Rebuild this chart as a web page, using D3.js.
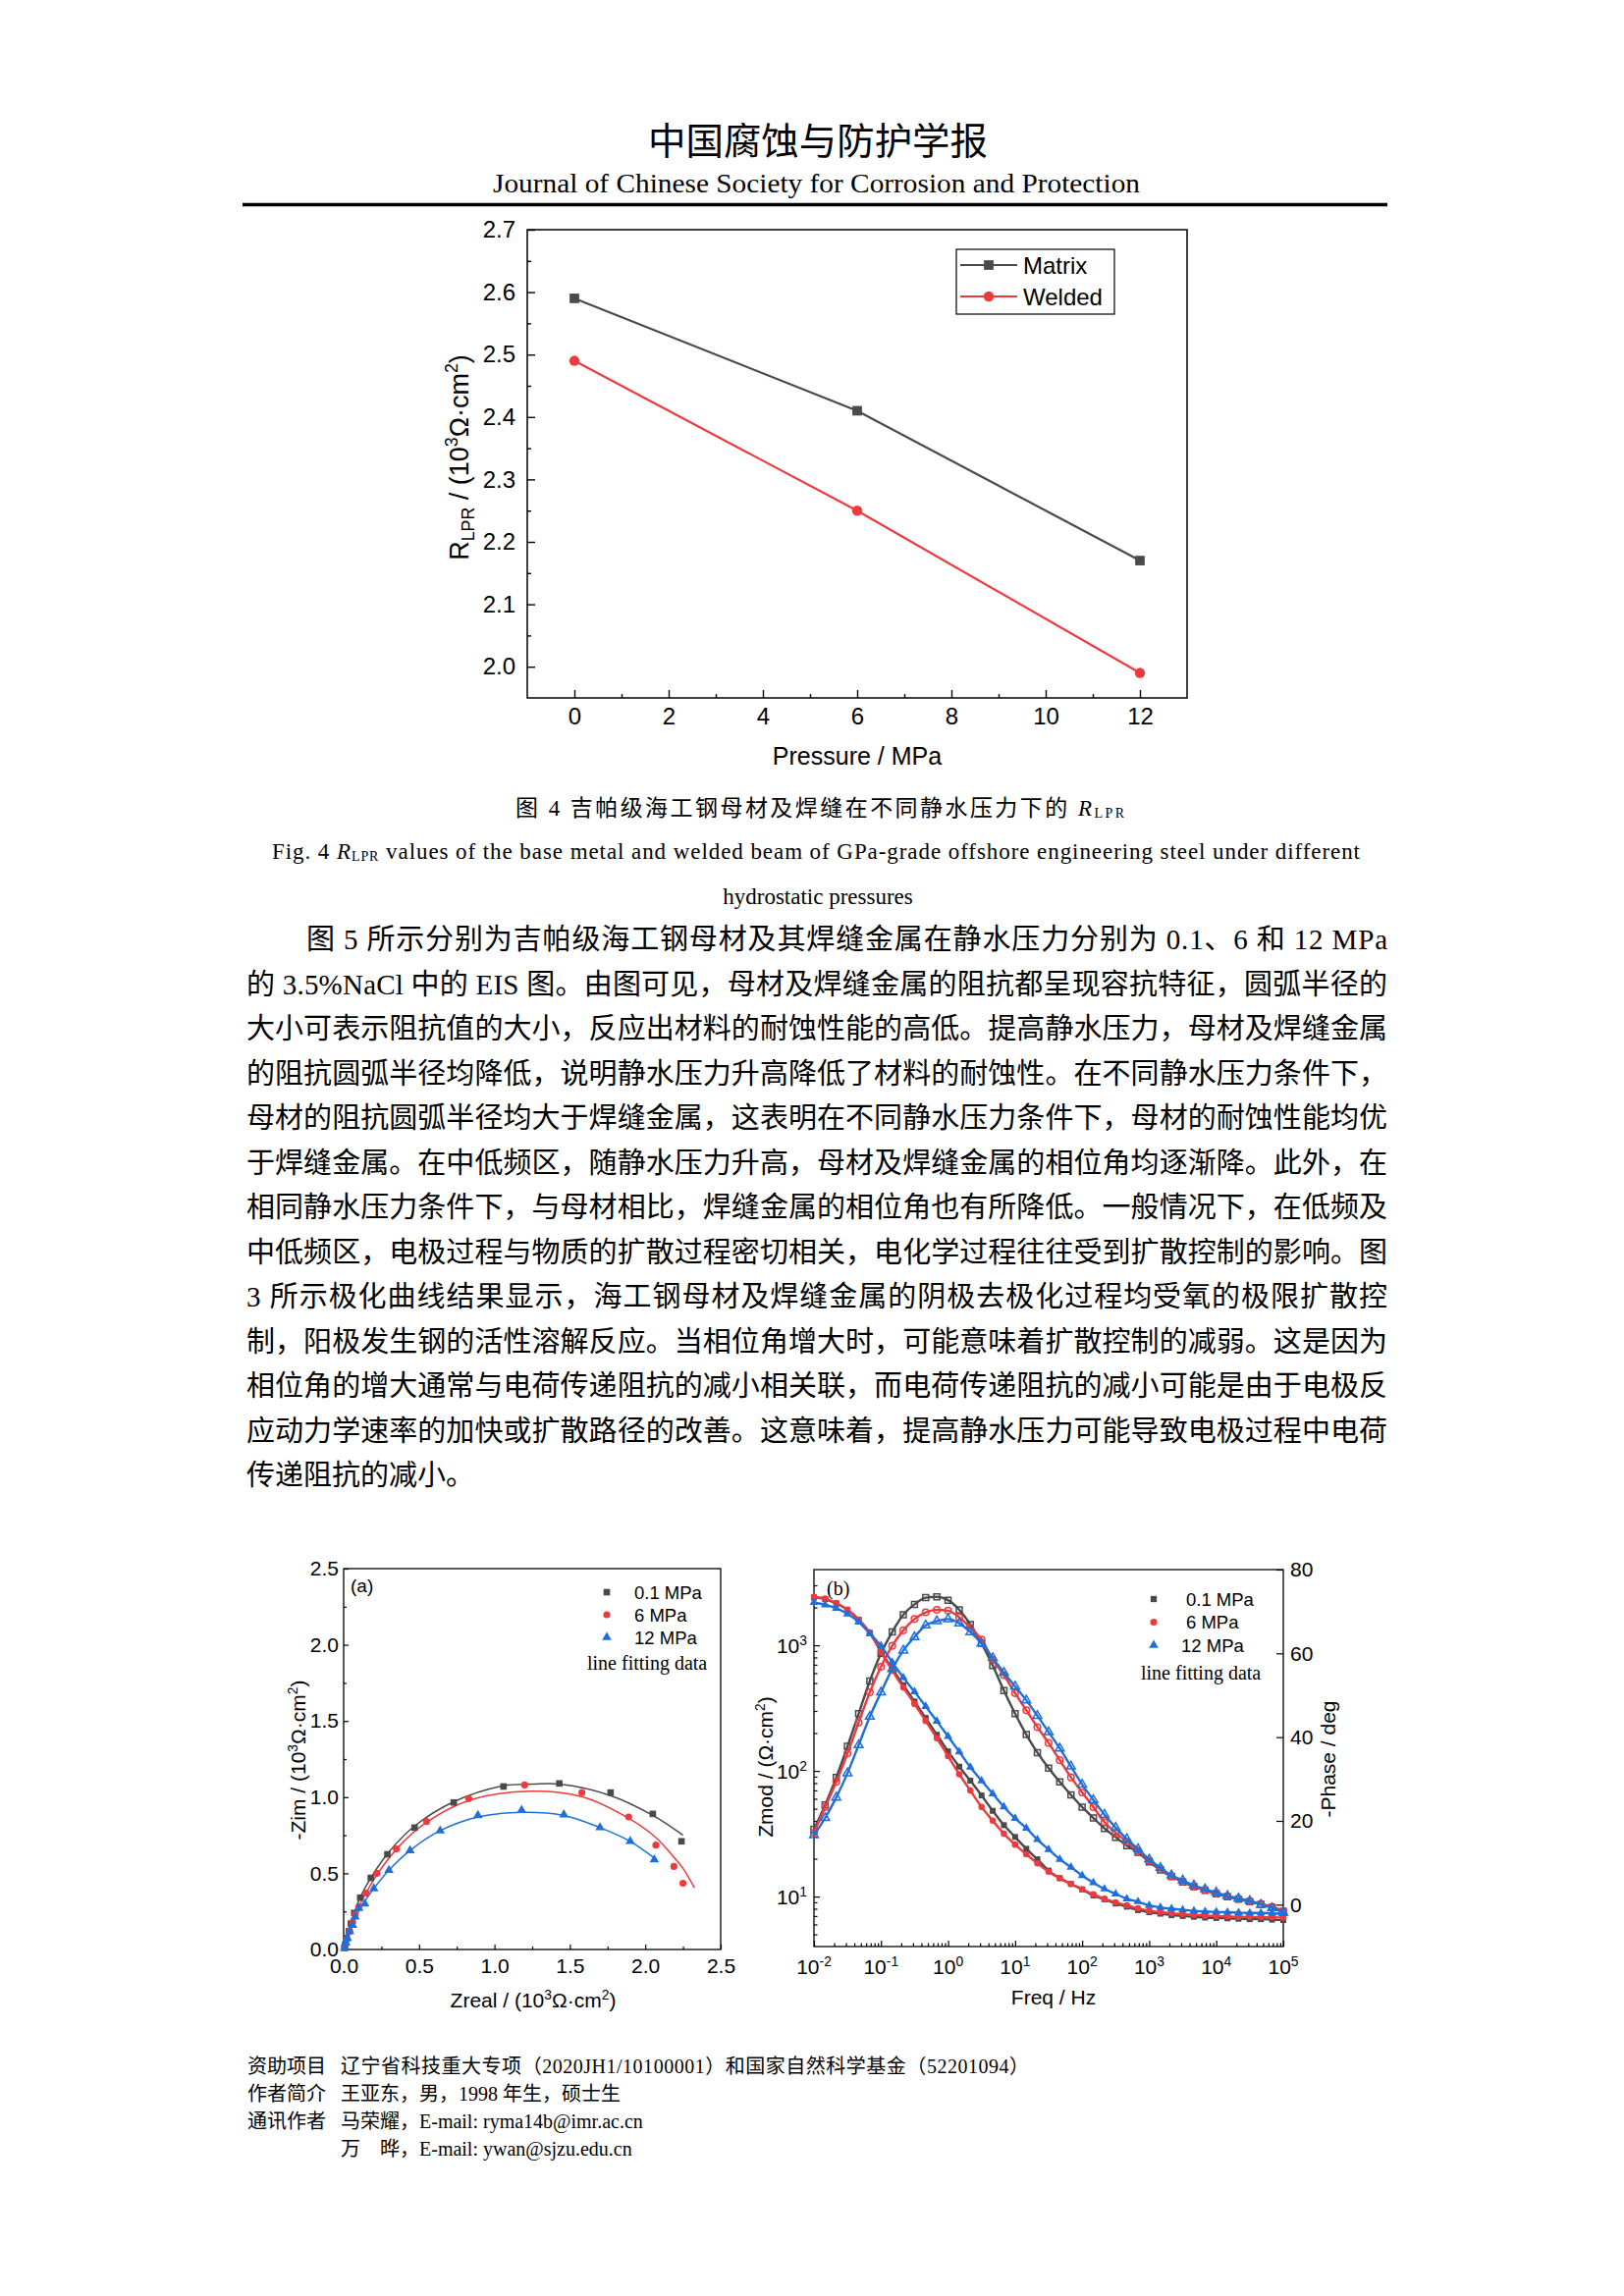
<!DOCTYPE html>
<html><head><meta charset="utf-8">
<script src="https://cdn.jsdelivr.net/npm/d3@7"></script>
<style>body{margin:0;background:#fff}</style>
</head><body>
<svg id="page" width="1654" height="2339"></svg>
<script>
// ---------------- DATA ----------------
const journalCn = "中国腐蚀与防护学报";
const journalEn = "Journal of Chinese Society for Corrosion and Protection";

// Fig 4
const pressures = [0, 6, 12];
const matrixR = [2.59, 2.41, 2.17];
const weldedR = [2.49, 2.25, 1.99];
const fig4XTicks = [0, 2, 4, 6, 8, 10, 12];
const fig4XMinor = [1, 3, 5, 7, 9, 11];
const fig4YTicks = [2.0, 2.1, 2.2, 2.3, 2.4, 2.5, 2.6, 2.7];
const fig4YMinor = [2.05, 2.15, 2.25, 2.35, 2.45, 2.55, 2.65];
const fig4Legend = ["Matrix", "Welded"];

const caption4Cn = "图 4  吉帕级海工钢母材及焊缝在不同静水压力下的 ";
const caption4En1 = " values of the base metal and welded beam of GPa-grade offshore engineering steel under different";
const caption4En2 = "hydrostatic pressures";

const bodyLines = [
  "图 5 所示分别为吉帕级海工钢母材及其焊缝金属在静水压力分别为 0.1、6 和 12 MPa",
  "的 3.5%NaCl 中的 EIS 图。由图可见，母材及焊缝金属的阻抗都呈现容抗特征，圆弧半径的",
  "大小可表示阻抗值的大小，反应出材料的耐蚀性能的高低。提高静水压力，母材及焊缝金属",
  "的阻抗圆弧半径均降低，说明静水压力升高降低了材料的耐蚀性。在不同静水压力条件下，",
  "母材的阻抗圆弧半径均大于焊缝金属，这表明在不同静水压力条件下，母材的耐蚀性能均优",
  "于焊缝金属。在中低频区，随静水压力升高，母材及焊缝金属的相位角均逐渐降。此外，在",
  "相同静水压力条件下，与母材相比，焊缝金属的相位角也有所降低。一般情况下，在低频及",
  "中低频区，电极过程与物质的扩散过程密切相关，电化学过程往往受到扩散控制的影响。图",
  "3  所示极化曲线结果显示，海工钢母材及焊缝金属的阴极去极化过程均受氧的极限扩散控",
  "制，阳极发生钢的活性溶解反应。当相位角增大时，可能意味着扩散控制的减弱。这是因为",
  "相位角的增大通常与电荷传递阻抗的减小相关联，而电荷传递阻抗的减小可能是由于电极反",
  "应动力学速率的加快或扩散路径的改善。这意味着，提高静水压力可能导致电极过程中电荷",
  "传递阻抗的减小。"
];

// Fig 5a Nyquist (10^3 ohm cm2)
const nyqGrayX = [0.005, 0.01, 0.02, 0.035, 0.048, 0.07, 0.11, 0.18, 0.29, 0.47, 0.73, 1.06, 1.43, 1.77, 2.05, 2.24];
const nyqGrayY = [0.01, 0.03, 0.075, 0.12, 0.17, 0.24, 0.34, 0.47, 0.625, 0.80, 0.965, 1.07, 1.09, 1.03, 0.89, 0.71];
const fitGrayX = [0, 0.02, 0.05, 0.1, 0.18, 0.3, 0.47, 0.73, 1.06, 1.25, 1.43, 1.77, 2.05, 2.25];
const fitGrayY = [0, 0.075, 0.17, 0.32, 0.47, 0.64, 0.81, 0.97, 1.075, 1.085, 1.085, 1.01, 0.88, 0.75];
const nyqRedX = [0.006, 0.02, 0.04, 0.06, 0.076, 0.10, 0.15, 0.22, 0.35, 0.55, 0.83, 1.20, 1.58, 1.89, 2.07, 2.19, 2.25];
const nyqRedY = [0.02, 0.065, 0.12, 0.18, 0.23, 0.28, 0.37, 0.50, 0.66, 0.84, 0.99, 1.08, 1.03, 0.87, 0.685, 0.545, 0.435];
const fitRedX = [0, 0.065, 0.152, 0.239, 0.369, 0.543, 0.825, 1.237, 1.584, 1.888, 2.072, 2.192, 2.246, 2.326];
const fitRedY = [0, 0.205, 0.377, 0.517, 0.679, 0.830, 0.976, 1.039, 1.002, 0.862, 0.733, 0.603, 0.539, 0.405];
const nyqBlueX = [0.006, 0.015, 0.025, 0.04, 0.06, 0.076, 0.10, 0.14, 0.20, 0.30, 0.44, 0.64, 0.89, 1.18, 1.46, 1.70, 1.90, 2.06];
const nyqBlueY = [0.01, 0.043, 0.075, 0.12, 0.16, 0.215, 0.27, 0.30, 0.40, 0.52, 0.65, 0.78, 0.88, 0.915, 0.885, 0.80, 0.71, 0.59];
const fitBlueX = [0, 0.03, 0.07, 0.13, 0.2, 0.3, 0.44, 0.64, 0.89, 1.18, 1.46, 1.70, 1.90, 2.06];
const fitBlueY = [0, 0.09, 0.19, 0.30, 0.40, 0.52, 0.65, 0.78, 0.87, 0.90, 0.88, 0.80, 0.71, 0.60];
const nyqTicks = [0, 0.5, 1.0, 1.5, 2.0, 2.5];
const nyqMinor = [0.25, 0.75, 1.25, 1.75, 2.25];
const legendNames = ["0.1 MPa", "6 MPa", "12 MPa"];

// Fig 5b Bode
const freqHz = [0.01, 0.0147, 0.0215, 0.0316, 0.0464, 0.0681, 0.1, 0.147, 0.215, 0.316, 0.464, 0.681,
  1, 1.47, 2.15, 3.16, 4.64, 6.81, 10, 14.7, 21.5, 31.6, 46.4, 68.1, 100, 147, 215, 316, 464, 681,
  1000, 1470, 2150, 3160, 4640, 6810, 10000, 14700, 21500, 31600, 46400, 68100, 100000];
const zmodGray = [2400, 2330, 2150, 1910, 1600, 1256, 893, 650, 481, 357, 264, 194, 143, 108, 83.6, 63.8,
  48.1, 37.0, 29.8, 24.0, 19.8, 16.1, 14.0, 12.6, 11.4, 10.2, 9.5, 8.8, 8.3, 7.8,
  7.5, 7.3, 7.1, 7.0, 6.9, 6.8, 6.75, 6.7, 6.65, 6.6, 6.6, 6.55, 6.5];
const zmodRed = [2430, 2350, 2170, 1920, 1600, 1250, 880, 630, 461, 342, 250, 182, 131, 94, 69.8, 51.6,
  40.2, 31.6, 25.9, 21.7, 18.4, 15.8, 14.0, 12.6, 11.4, 10.4, 9.6, 9.0, 8.5, 8.05,
  7.7, 7.5, 7.35, 7.25, 7.15, 7.05, 7.0, 6.95, 6.9, 6.9, 6.85, 6.85, 6.8];
const zmodBlue = [2190, 2100, 1970, 1778, 1530, 1240, 988, 733, 553, 427, 326, 249, 188, 142, 107, 83.5,
  65.8, 51.7, 41.9, 35.0, 28.4, 23.7, 19.8, 17.1, 14.7, 12.9, 11.5, 10.5, 9.6, 9.1,
  8.5, 8.2, 8.0, 7.85, 7.7, 7.6, 7.55, 7.5, 7.45, 7.4, 7.4, 7.35, 7.3];
const phaseGray = [18.0, 23.8, 30.4, 37.8, 45.6, 53.4, 60.0, 65.1, 69.2, 71.7, 73.3, 73.5, 72.7, 70.4, 66.9, 62.4,
  57.1, 51.1, 45.6, 40.6, 36.3, 32.6, 29.3, 26.2, 23.3, 20.7, 18.2, 16.1, 14.1, 12.5,
  10.2, 8.3, 6.7, 5.4, 4.3, 3.4, 2.6, 1.9, 1.3, 0.7, 0.1, -0.6, -1.6];
const phaseRed = [17.2, 23.3, 29.3, 36.1, 43.5, 50.7, 56.8, 61.8, 65.5, 68.2, 69.8, 70.4, 70.2, 68.6, 66.1, 63.3,
  58.5, 54.8, 50.5, 46.4, 42.4, 38.6, 34.5, 30.4, 26.8, 23.3, 19.7, 17.2, 15.0, 12.9,
  10.5, 8.5, 6.8, 5.5, 4.4, 3.5, 2.7, 2.0, 1.4, 0.8, 0.2, -0.5, -1.5];
const phaseBlue = [16.6, 20.7, 25.6, 31.4, 38.1, 44.9, 50.7, 56.3, 60.7, 63.9, 66.7, 67.7, 68.2, 67.2, 65.1, 62.4,
  58.9, 55.4, 52.1, 48.8, 45.1, 41.2, 37.3, 33.0, 28.7, 25.0, 21.5, 18.4, 15.7, 13.3,
  10.8, 8.8, 7.0, 5.8, 4.6, 3.7, 2.9, 2.1, 1.5, 0.9, 0.0, -0.8, -1.9];
const bodeXDecades = [-2, -1, 0, 1, 2, 3, 4, 5];
const bodeYDecades = [1, 2, 3];
const phaseTicks = [0, 20, 40, 60, 80];

const footLabels = ["资助项目", "作者简介", "通讯作者", ""];
const footTexts = [
  "辽宁省科技重大专项（2020JH1/10100001）和国家自然科学基金（52201094）",
  "王亚东，男，1998 年生，硕士生",
  "马荣耀，E-mail: ryma14b@imr.ac.cn",
  "万　晔，E-mail: ywan@sjzu.edu.cn"
];

// ---------------- STYLE ----------------
const SANS = "'Liberation Sans', Arial, sans-serif";
const SERIF = "'Liberation Serif', 'Times New Roman', serif";
const MIX = "'Liberation Serif', 'Noto Sans CJK SC', serif";
const CJK = "'Noto Sans CJK SC', sans-serif";
const GRAY = "#4a4a4a", RED = "#ec3a3e", BLUE = "#1f6fdb";

const svg = d3.select("#page");
svg.append("rect").attr("width", 1654).attr("height", 2339).attr("fill", "#fff");

function rich(sel, segs, fs) {
  let off = 0;
  segs.forEach(([t, m]) => {
    const target = m === "sup" ? -0.4 * fs : m === "sub" ? 0.22 * fs : 0;
    sel.append("tspan").text(t).attr("dy", target - off)
      .attr("font-size", m ? fs * 0.66 : fs);
    off = target;
  });
  return sel;
}
function styleAxis(g, fs, sw) {
  g.select(".domain").remove();
  g.selectAll("line").attr("stroke", "#000").attr("stroke-width", sw || 1.4);
  g.selectAll("text").attr("font-family", SANS).attr("font-size", fs).attr("fill", "#000");
}

// ---------------- HEADER ----------------
svg.append("text").attr("x", 660).attr("y", 157).attr("font-family", CJK).attr("font-size", 38)
  .attr("textLength", 346).attr("lengthAdjust", "spacingAndGlyphs").text(journalCn);
svg.append("text").attr("x", 502).attr("y", 196).attr("font-family", SERIF).attr("font-size", 27)
  .attr("textLength", 659).attr("lengthAdjust", "spacingAndGlyphs").text(journalEn);
svg.append("line").attr("x1", 247).attr("x2", 1413).attr("y1", 208.5).attr("y2", 208.5)
  .attr("stroke", "#000").attr("stroke-width", 3.5);

// ---------------- FIG 4 ----------------
(function () {
  const L = 537, R = 1209, T = 234, B = 711;
  const x = d3.scaleLinear().domain([-1, 13]).range([L, R]);
  const y = d3.scaleLinear().domain([1.95, 2.7]).range([B, T]);
  const g = svg.append("g");
  g.append("g").attr("transform", `translate(0,${B})`)
    .call(d3.axisBottom(x).tickValues(fig4XTicks).tickSize(-8).tickPadding(10).tickFormat(d3.format("d")))
    .call(a => styleAxis(a, 24));
  g.append("g").attr("transform", `translate(0,${B})`)
    .call(d3.axisBottom(x).tickValues(fig4XMinor).tickSize(-4).tickFormat(""))
    .call(a => styleAxis(a, 24));
  g.append("g").attr("transform", `translate(${L},0)`)
    .call(d3.axisLeft(y).tickValues(fig4YTicks).tickSize(-8).tickPadding(12).tickFormat(d3.format(".1f")))
    .call(a => styleAxis(a, 24));
  g.append("g").attr("transform", `translate(${L},0)`)
    .call(d3.axisLeft(y).tickValues(fig4YMinor).tickSize(-4).tickFormat(""))
    .call(a => styleAxis(a, 24));
  g.append("rect").attr("x", L).attr("y", T).attr("width", R - L).attr("height", B - T)
    .attr("fill", "none").attr("stroke", "#000").attr("stroke-width", 1.5);

  const line = d3.line().x(d => x(d[0])).y(d => y(d[1]));
  const mData = pressures.map((p, i) => [p, matrixR[i]]);
  const wData = pressures.map((p, i) => [p, weldedR[i]]);
  g.append("path").attr("d", line(mData)).attr("fill", "none").attr("stroke", GRAY).attr("stroke-width", 2.2);
  g.append("path").attr("d", line(wData)).attr("fill", "none").attr("stroke", RED).attr("stroke-width", 2.2);
  g.selectAll(".m").data(mData).join("path").attr("transform", d => `translate(${x(d[0])},${y(d[1])})`)
    .attr("d", d3.symbol(d3.symbolSquare, 95)).attr("fill", GRAY);
  g.selectAll(".w").data(wData).join("path").attr("transform", d => `translate(${x(d[0])},${y(d[1])})`)
    .attr("d", d3.symbol(d3.symbolCircle, 85)).attr("fill", RED);

  // legend
  g.append("rect").attr("x", 974).attr("y", 254).attr("width", 161).attr("height", 66)
    .attr("fill", "#fff").attr("stroke", "#000").attr("stroke-width", 1.2);
  [[GRAY, d3.symbolSquare, 95], [RED, d3.symbolCircle, 85]].forEach((s, i) => {
    const yy = 270 + i * 32;
    g.append("line").attr("x1", 978).attr("x2", 1036).attr("y1", yy).attr("y2", yy).attr("stroke", s[0]).attr("stroke-width", 2.2);
    g.append("path").attr("transform", `translate(1007,${yy})`).attr("d", d3.symbol(s[1], s[2])).attr("fill", s[0]);
    g.append("text").attr("x", 1042).attr("y", yy + 8.5).attr("font-family", SANS).attr("font-size", 24).text(fig4Legend[i]);
  });

  g.append("text").attr("x", 873).attr("y", 779).attr("text-anchor", "middle").attr("font-family", SANS)
    .attr("font-size", 25).text("Pressure / MPa");
  const yl = g.append("text").attr("transform", "translate(477,466) rotate(-90)").attr("text-anchor", "middle")
    .attr("font-family", SANS).attr("font-size", 27);
  rich(yl, [["R"], ["LPR", "sub"], [" / (10"], ["3", "sup"], ["Ω·cm"], ["2", "sup"], [")"]], 27);
})();

// ---------------- CAPTIONS ----------------
(function () {
  const c1 = svg.append("text").attr("x", 525).attr("y", 831).attr("font-family", MIX).attr("font-size", 23)
    .attr("textLength", 620).attr("lengthAdjust", "spacing");
  c1.append("tspan").text(caption4Cn);
  c1.append("tspan").text("R").attr("font-style", "italic").attr("font-family", SERIF);
  c1.append("tspan").text("LPR").attr("font-size", 14).attr("font-family", SERIF).attr("dy", 2);
  const c2 = svg.append("text").attr("x", 277).attr("y", 875).attr("font-family", SERIF).attr("font-size", 23)
    .attr("textLength", 1108).attr("lengthAdjust", "spacing");
  c2.append("tspan").text("Fig. 4 ");
  c2.append("tspan").text("R").attr("font-style", "italic");
  c2.append("tspan").text("LPR").attr("font-size", 14).attr("dy", 2);
  c2.append("tspan").text(caption4En1).attr("dy", -2);
  svg.append("text").attr("x", 833).attr("y", 921).attr("text-anchor", "middle").attr("font-family", SERIF)
    .attr("font-size", 23).text(caption4En2);
})();

// ---------------- BODY ----------------
bodyLines.forEach((t, i) => {
  const x0 = i === 0 ? 312 : 251;
  const el = svg.append("text").attr("x", x0).attr("y", 967 + 45.5 * i).attr("font-family", MIX)
    .attr("font-size", 29).text(t);
  if (i < bodyLines.length - 1) el.attr("textLength", 1413 - x0).attr("lengthAdjust", "spacing");
});

// ---------------- FIG 5a ----------------
(function () {
  const L = 350, R = 734, T = 1598, B = 1986;
  const x = d3.scaleLinear().domain([0, 2.5]).range([L, R]);
  const y = d3.scaleLinear().domain([0, 2.5]).range([B, T]);
  const g = svg.append("g");
  g.append("g").attr("transform", `translate(0,${B})`)
    .call(d3.axisBottom(x).tickValues(nyqTicks).tickSize(-5).tickPadding(9).tickFormat(d3.format(".1f")))
    .call(a => styleAxis(a, 21, 1.2));
  g.append("g").attr("transform", `translate(0,${B})`)
    .call(d3.axisBottom(x).tickValues(nyqMinor).tickSize(-3).tickFormat(""))
    .call(a => styleAxis(a, 21, 1.2));
  g.append("g").attr("transform", `translate(${L},0)`)
    .call(d3.axisLeft(y).tickValues(nyqTicks).tickSize(-5).tickPadding(5).tickFormat(d3.format(".1f")))
    .call(a => styleAxis(a, 21, 1.2));
  g.append("g").attr("transform", `translate(${L},0)`)
    .call(d3.axisLeft(y).tickValues(nyqMinor).tickSize(-3).tickFormat(""))
    .call(a => styleAxis(a, 21, 1.2));
  g.append("rect").attr("x", L).attr("y", T).attr("width", R - L).attr("height", B - T)
    .attr("fill", "none").attr("stroke", "#000").attr("stroke-width", 1.3);

  const line = d3.line().x(d => x(d[0])).y(d => y(d[1])).curve(d3.curveCatmullRom);
  const sets = [
    [nyqGrayX, nyqGrayY, fitGrayX, fitGrayY, GRAY, d3.symbolSquare, 44],
    [nyqRedX, nyqRedY, fitRedX, fitRedY, RED, d3.symbolCircle, 40],
    [nyqBlueX, nyqBlueY, fitBlueX, fitBlueY, BLUE, d3.symbolTriangle, 40]
  ];
  sets.forEach(s => {
    const fit = s[2].map((v, i) => [v, s[3][i]]);
    g.append("path").attr("d", line(fit)).attr("fill", "none").attr("stroke", s[4]).attr("stroke-width", 1.5);
  });
  sets.forEach(s => {
    const pts = s[0].map((v, i) => [v, s[1][i]]);
    g.append("g").selectAll("path").data(pts).join("path")
      .attr("transform", d => `translate(${x(d[0])},${y(d[1])})`)
      .attr("d", d3.symbol(s[5], s[6])).attr("fill", s[4]);
  });
  // legend
  sets.forEach((s, i) => {
    const yy = 1622 + i * 23;
    g.append("path").attr("transform", `translate(618,${yy})`).attr("d", d3.symbol(s[5], s[6])).attr("fill", s[4]);
    g.append("text").attr("x", 646).attr("y", yy + 6.5).attr("font-family", SANS).attr("font-size", 18.5).text(legendNames[i]);
  });
  g.append("text").attr("x", 598).attr("y", 1701).attr("font-family", SERIF).attr("font-size", 20).text("line fitting data");
  g.append("text").attr("x", 357).attr("y", 1622).attr("font-family", SANS).attr("font-size", 19).text("(a)");

  const xl = g.append("text").attr("x", 543).attr("y", 2045).attr("text-anchor", "middle")
    .attr("font-family", SANS).attr("font-size", 21);
  rich(xl, [["Zreal / (10"], ["3", "sup"], ["Ω·cm"], ["2", "sup"], [")"]], 21);
  const yl = g.append("text").attr("transform", "translate(311,1793) rotate(-90)").attr("text-anchor", "middle")
    .attr("font-family", SANS).attr("font-size", 21);
  rich(yl, [["-Zim / (10"], ["3", "sup"], ["Ω·cm"], ["2", "sup"], [")"]], 21);
})();

// ---------------- FIG 5b ----------------
(function () {
  const L = 829, R = 1307, T = 1599, B = 1983;
  const x = d3.scaleLog().domain([1e-2, 1e5]).range([L, R]);
  const yL = d3.scaleLog().domain([4, 4000]).range([B, T]);
  const yR = d3.scaleLinear().domain([-10, 80]).range([B, T]);
  const g = svg.append("g");
  const xMajor = bodeXDecades.map(d => Math.pow(10, d));
  const xMinor = [];
  bodeXDecades.slice(0, -1).forEach(d => { for (let k = 2; k <= 9; k++) xMinor.push(k * Math.pow(10, d)); });
  const yMajor = bodeYDecades.map(d => Math.pow(10, d));
  const yMinor = [5, 6, 7, 8, 9];
  [10, 100].forEach(b => { for (let k = 2; k <= 9; k++) yMinor.push(k * b); });
  [2000, 3000].forEach(v => yMinor.push(v));

  g.append("g").attr("transform", `translate(0,${B})`)
    .call(d3.axisBottom(x).tickValues(xMajor).tickSize(-6).tickFormat(""))
    .call(a => styleAxis(a, 21, 1.2));
  g.append("g").attr("transform", `translate(0,${B})`)
    .call(d3.axisBottom(x).tickValues(xMinor).tickSize(-3.5).tickFormat(""))
    .call(a => styleAxis(a, 21, 1.2));
  g.append("g").attr("transform", `translate(${L},0)`)
    .call(d3.axisLeft(yL).tickValues(yMajor).tickSize(-6).tickFormat(""))
    .call(a => styleAxis(a, 21, 1.2));
  g.append("g").attr("transform", `translate(${L},0)`)
    .call(d3.axisLeft(yL).tickValues(yMinor).tickSize(-3.5).tickFormat(""))
    .call(a => styleAxis(a, 21, 1.2));
  g.append("g").attr("transform", `translate(${R},0)`)
    .call(d3.axisRight(yR).tickValues(phaseTicks).tickSize(-7).tickPadding(7).tickFormat(d3.format("d")))
    .call(a => styleAxis(a, 21, 1.2));
  g.append("rect").attr("x", L).attr("y", T).attr("width", R - L).attr("height", B - T)
    .attr("fill", "none").attr("stroke", "#000").attr("stroke-width", 1.3);

  // log tick labels
  bodeXDecades.forEach(d => {
    const t = g.append("text").attr("x", x(Math.pow(10, d))).attr("y", 2011).attr("text-anchor", "middle")
      .attr("font-family", SANS).attr("font-size", 21);
    rich(t, [["10"], [String(d), "sup"]], 21);
  });
  bodeYDecades.forEach(d => {
    const t = g.append("text").attr("x", 822).attr("y", yL(Math.pow(10, d)) + 8).attr("text-anchor", "end")
      .attr("font-family", SANS).attr("font-size", 21);
    rich(t, [["10"], [String(d), "sup"]], 21);
  });

  const series = [
    [zmodGray, phaseGray, GRAY, d3.symbolSquare, 36],
    [zmodRed, phaseRed, RED, d3.symbolCircle, 34],
    [zmodBlue, phaseBlue, BLUE, d3.symbolTriangle, 34]
  ];
  const lineZ = d3.line().x(d => x(d[0])).y(d => yL(d[1])).curve(d3.curveMonotoneX);
  const lineP = d3.line().x(d => x(d[0])).y(d => yR(d[1])).curve(d3.curveMonotoneX);
  series.forEach(s => {
    const z = freqHz.map((f, i) => [f, s[0][i]]);
    const p = freqHz.map((f, i) => [f, s[1][i]]);
    g.append("path").attr("d", lineZ(z)).attr("fill", "none").attr("stroke", s[2]).attr("stroke-width", 2.4);
    g.append("path").attr("d", lineP(p)).attr("fill", "none").attr("stroke", s[2]).attr("stroke-width", 2.4);
    g.append("g").selectAll("path").data(z).join("path")
      .attr("transform", d => `translate(${x(d[0])},${yL(d[1])})`)
      .attr("d", d3.symbol(s[3], s[4])).attr("fill", s[2]);
    g.append("g").selectAll("path").data(p).join("path")
      .attr("transform", d => `translate(${x(d[0])},${yR(d[1])})`)
      .attr("d", d3.symbol(s[3], s[4])).attr("fill", "none").attr("stroke", s[2]).attr("stroke-width", 1.5);
  });

  // legend
  const legX = [1208, 1208, 1203];
  series.forEach((s, i) => {
    const yy = 1629 + i * 23.5;
    g.append("path").attr("transform", `translate(1175,${yy})`).attr("d", d3.symbol(s[3], 40)).attr("fill", s[2]);
    g.append("text").attr("x", legX[i]).attr("y", yy + 6.5).attr("font-family", SANS).attr("font-size", 18.5).text(legendNames[i]);
  });
  g.append("text").attr("x", 1162).attr("y", 1711).attr("font-family", SERIF).attr("font-size", 20).text("line fitting data");
  g.append("text").attr("x", 842).attr("y", 1625).attr("font-family", SERIF).attr("font-size", 20).text("(b)");

  g.append("text").attr("x", 1073).attr("y", 2042).attr("text-anchor", "middle")
    .attr("font-family", SANS).attr("font-size", 21).text("Freq / Hz");
  const yl = g.append("text").attr("transform", "translate(787,1800) rotate(-90)").attr("text-anchor", "middle")
    .attr("font-family", SANS).attr("font-size", 21);
  rich(yl, [["Zmod / (Ω·cm"], ["2", "sup"], [")"]], 21);
  g.append("text").attr("transform", "translate(1360,1792) rotate(-90)").attr("text-anchor", "middle")
    .attr("font-family", SANS).attr("font-size", 21).text("-Phase / deg");
})();

// ---------------- FOOTNOTES ----------------
footTexts.forEach((t, i) => {
  const yy = 2112 + 28 * i;
  if (footLabels[i]) svg.append("text").attr("x", 252).attr("y", yy).attr("font-family", MIX)
    .attr("font-size", 20).text(footLabels[i]);
  const el = svg.append("text").attr("x", 347).attr("y", yy).attr("font-family", MIX).attr("font-size", 20).text(t);
  if (i === 0) el.attr("textLength", 701).attr("lengthAdjust", "spacing");
});
</script>
</body></html>
